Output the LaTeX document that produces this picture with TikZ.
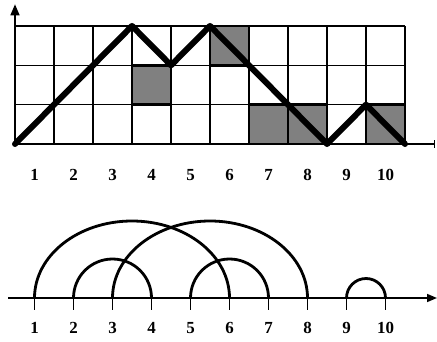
\documentclass[tikz,border=0pt]{standalone}
\usepackage{fontspec}
\setmainfont{Liberation Serif}
\usetikzlibrary{arrows.meta}
\begin{document}
\begin{tikzpicture}[x=1bp,y=1bp,
  gridline/.style={line width=1.3bp},
  shaded/.style={fill=black!50,draw=black,line width=2.6bp},
  walk/.style={line width=6bp,line join=round,line cap=round},
  axisline/.style={line width=1.5bp},
  arcline/.style={line width=2.8bp},
  lbl/.style={font=\fontsize{17}{17}\selectfont\bfseries,inner sep=0pt}]
\useasboundingbox (0,0) rectangle (437,341);
% ---------- top grid ----------
\begin{scope}[shift={(15,197)},x=39bp,y=39.35bp]
  \draw[gridline,step=1] (0,0) grid (10,3);
  \draw[shaded] (3,1) rectangle (4,2);
  \draw[shaded] (5,2) rectangle (6,3);
  \draw[shaded] (6,0) rectangle (8,1);
  \draw[shaded] (7,0) -- (7,1);
  \draw[shaded] (9,0) rectangle (10,1);
  \coordinate (o) at (0,0);
  \coordinate (p1) at (3,3);
  \coordinate (p2) at (4,2);
  \coordinate (p3) at (5,3);
  \coordinate (p4) at (8,0);
  \coordinate (p5) at (9,1);
  \coordinate (p6) at (10,0);
  \coordinate (xend) at (10.77,0);
  \coordinate (yend) at (0,3.55);
  \draw[axisline,-{Bar[width=8bp]}] (o) -- (xend);
  \draw[axisline,-{Triangle[width=9bp,length=11bp]}] (o) -- (yend);
  \draw[walk] (o) -- (p1) -- (p2) -- (p3) -- (p4) -- (p5) -- (p6);
  \foreach \i in {1,...,10}{
    \node[lbl] (t\i) at (\i-0.5,-0.79) {\i};
  }
\end{scope}
% ---------- bottom arc diagram ----------
\coordinate (a0) at (8,43);
\coordinate (a1) at (437,43);
\draw[axisline,-{Triangle[width=8bp,length=10bp]}] (a0) -- (a1);
\foreach \i in {1,...,10}{
  \coordinate (b\i) at ({34.5+39*(\i-1)},43);
  \draw[line width=1.5bp] (b\i) -- ++(0,-12);
  \node[lbl] (n\i) at ({34.5+39*(\i-1)},13) {\i};
}
\draw[arcline] (b1) arc[start angle=180,end angle=0,x radius=97.5,y radius=77];
\draw[arcline] (b3) arc[start angle=180,end angle=0,x radius=97.5,y radius=77];
\draw[arcline] (b2) arc[start angle=180,end angle=0,radius=39];
\draw[arcline] (b5) arc[start angle=180,end angle=0,radius=39];
\draw[arcline] (b9) arc[start angle=180,end angle=0,radius=19.5];
\end{tikzpicture}
\end{document}
